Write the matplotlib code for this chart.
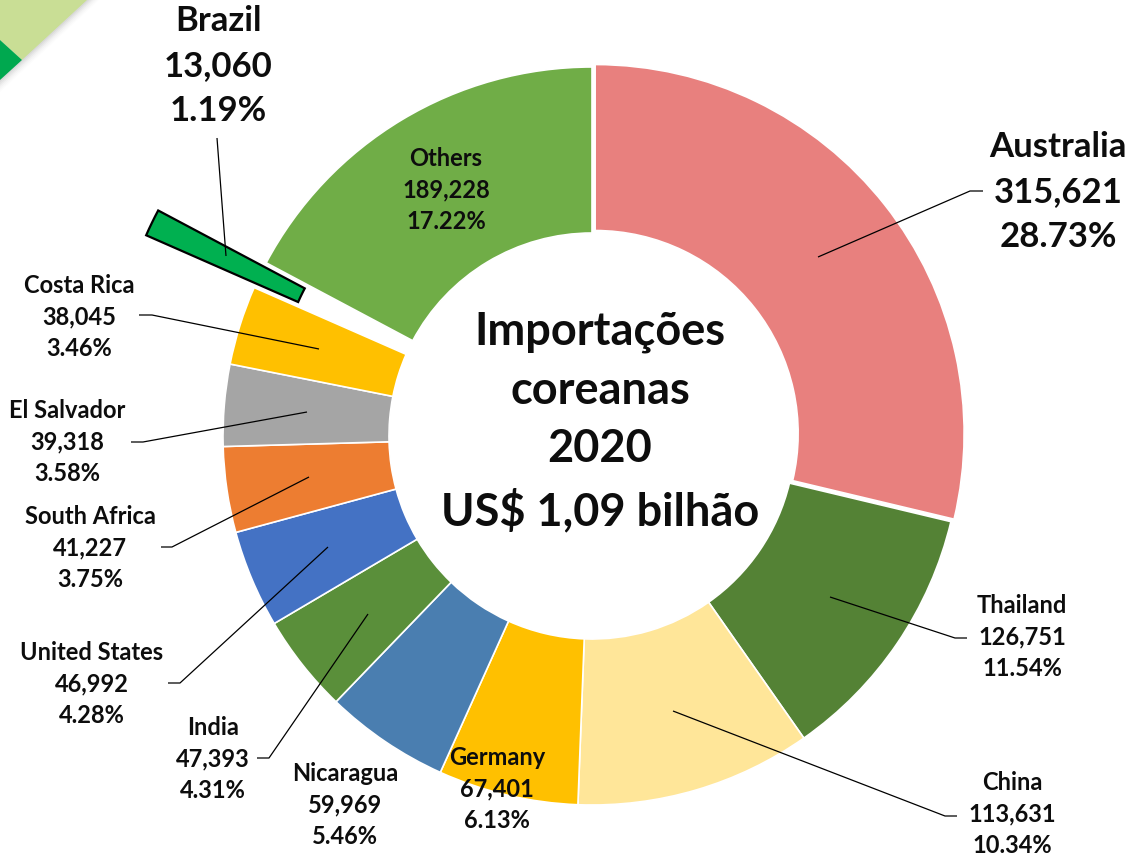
import matplotlib
matplotlib.use('Agg')
import matplotlib.pyplot as plt
from matplotlib.patches import Polygon

# ---- data ----
countries = ['Australia', 'Thailand', 'China', 'Germany', 'Nicaragua', 'India',
             'United States', 'South Africa', 'El Salvador', 'Costa Rica', 'Brazil', 'Others']
values = [315621, 126751, 113631, 67401, 59969, 47393, 46992, 41227, 39318, 38045, 13060, 189228]
shares = [28.73, 11.54, 10.34, 6.13, 5.46, 4.31, 4.28, 3.75, 3.58, 3.46, 1.19, 17.22]
title_lines = ['Importações', 'coreanas', '2020', 'US$ 1,09 bilhão']

colors = ['#E8807E', '#548235', '#FFE699', '#FFC000', '#4A7EB0', '#5A8F3A',
          '#4472C4', '#ED7D31', '#A5A5A5', '#FFC000', '#00B050', '#70AD47']

W, H = 1135, 857
FONT = 'Lato'


def P(px, py):
    return px, H - py


fig = plt.figure(figsize=(W / 100, H / 100), dpi=100)
ax = fig.add_axes([0, 0, 1, 1])

# background decoration (top-left corner)
for k, a in zip(range(6), [0.10, 0.08, 0.06, 0.04, 0.03, 0.02]):
    d = 2 + k * 2
    ax.add_patch(Polygon([P(0, 0), P(87 + d, 0), P(0, 80 + d)], closed=True,
                         facecolor='#808080', alpha=a, edgecolor='none', zorder=0))
ax.add_patch(Polygon([P(0, 0), P(87, 0), P(22, 60), P(0, 40)], closed=True,
                     facecolor='#C9DE95', edgecolor='none', zorder=1))
ax.add_patch(Polygon([P(0, 40), P(22, 60), P(0, 80)], closed=True,
                     facecolor='#00A84F', edgecolor='none', zorder=1))

cx, cy = P(592, 436)
R = 369
# explode offsets are in data (pixel) units
explode = [4 if c == 'Australia' else (120 if c == 'Brazil' else 0) for c in countries]
wedges, _ = ax.pie(values, colors=colors, startangle=90, counterclock=False,
                   center=(cx, cy), radius=R, explode=explode,
                   wedgeprops=dict(width=166, edgecolor='white', linewidth=1.2))
for w, c in zip(wedges, countries):
    w.set_zorder(2)
    if c == 'Brazil':
        w.set_edgecolor('black')
        w.set_linewidth(1.6)

# labels
big = {'Australia': (1058, 192), 'Brazil': (218, 66)}
small = {'Thailand': (1022, 637), 'China': (1012, 814), 'Germany': (497, 789),
         'Nicaragua': (345, 805), 'India': (213, 759), 'United States': (92, 684),
         'South Africa': (90, 548), 'El Salvador': (67, 442), 'Costa Rica': (79, 317),
         'Others': (446, 190)}

for c, v, s in zip(countries, values, shares):
    txt = f"{c}\n{v:,}\n{s:.2f}%"
    if c in big:
        x, y = big[c]
        ax.text(*P(x, y), txt, ha='center', va='center', multialignment='center',
                fontsize=25, fontweight='bold', family=FONT, linespacing=1.5,
                color='#0D0D0D', zorder=5)
    else:
        x, y = small[c]
        ax.text(*P(x, y), txt, ha='center', va='center', multialignment='center',
                fontsize=17, fontweight='bold', family=FONT, linespacing=1.45,
                color='#0D0D0D', zorder=5)

# leader lines (pixel path from inside slice to label)
leaders = {
    'Australia': [(818, 257), (970, 191), (983, 191)],
    'Thailand': [(830, 597), (955, 638), (967, 638)],
    'China': [(673, 711), (945, 816), (957, 816)],
    'Brazil': [(226, 256), (217, 138)],
    'Costa Rica': [(319, 349), (152, 315), (139, 315)],
    'El Salvador': [(307, 412), (143, 442), (131, 442)],
    'South Africa': [(309, 477), (172, 547), (161, 547)],
    'United States': [(328, 547), (180, 683), (168, 683)],
    'India': [(368, 614), (269, 758), (257, 758)],
}
for c, pts in leaders.items():
    xs = [p[0] for p in pts]
    ys = [H - p[1] for p in pts]
    ax.plot(xs, ys, color='black', lw=0.9, zorder=6, solid_capstyle='butt')

# centre title
ax.text(*P(600, 422), '\n'.join(title_lines), ha='center', va='center',
        multialignment='center', fontsize=32.5, fontweight='bold', family=FONT,
        linespacing=1.49, color='#0D0D0D', zorder=5)

ax.set_xlim(0, W)
ax.set_ylim(0, H)
ax.set_aspect('equal')
ax.axis('off')
fig.savefig('out.png', dpi=100, facecolor='white')
